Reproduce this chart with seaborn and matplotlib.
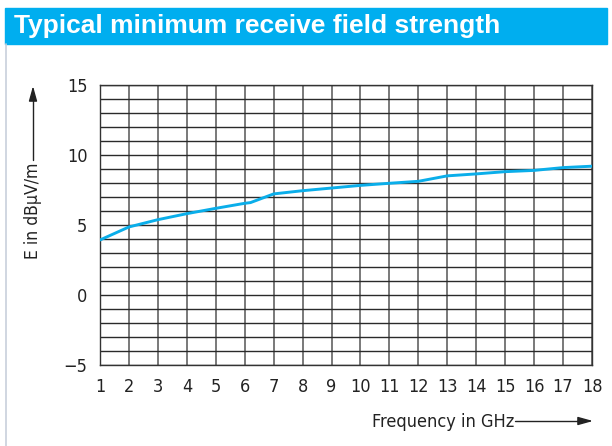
import matplotlib
matplotlib.use("Agg")
import matplotlib.pyplot as plt
import seaborn as sns
import pandas as pd
from matplotlib.ticker import MultipleLocator
from matplotlib.patches import Rectangle

# values
freq_ghz = [1, 2, 3, 4, 5, 6, 6.2, 7, 8, 9, 10, 11, 12, 13, 14, 15, 16, 17, 18]
field_dbuv = [3.93, 4.86, 5.38, 5.81, 6.19, 6.55, 6.6, 7.22, 7.45, 7.64, 7.83,
              7.98, 8.12, 8.51, 8.65, 8.81, 8.9, 9.1, 9.2]
x_ticks = list(range(1, 19))
y_ticks = [-5, 0, 5, 10, 15]

title = "Typical minimum receive field strength"
ylabel = "E in dBµV/m"
xlabel = "Frequency in GHz"

data = pd.DataFrame({"freq": freq_ghz, "field": field_dbuv})

sns.set_style("white")
plt.rcParams["font.family"] = ["Liberation Sans Narrow", "DejaVu Sans"]
plt.rcParams["font.stretch"] = "condensed"

W, H = 612, 446
fig = plt.figure(figsize=(W / 100, H / 100), dpi=100)

# title bar + left frame line
fig.patches.append(Rectangle((5 / W, 1 - 44 / H), 602 / W, 36 / H,
                             transform=fig.transFigure, color="#00AEEF", zorder=0))
fig.add_artist(plt.Line2D([5.5 / W, 5.5 / W], [0, 1 - 44 / H], transform=fig.transFigure,
                          color="#c8d0dc", lw=1.2))
fig.text(14 / W, 1 - 26 / H, title, color="white", fontsize=19, fontweight="bold",
         family=["Liberation Sans", "DejaVu Sans"], va="center", ha="left")

ax = fig.add_axes([100 / W, 1 - 365 / H, 492 / W, 280 / H])
sns.lineplot(data=data, x="freq", y="field", ax=ax, color="#0AAEEA", linewidth=2.1, zorder=5)

ax.set_xlim(1, 18)
ax.set_ylim(-5, 15)
ax.set_xticks(x_ticks)
ax.set_yticks(y_ticks)
ax.set_xticklabels([str(t) for t in x_ticks])
ax.set_yticklabels(["\u22125" if t < 0 else str(t) for t in y_ticks])
ax.yaxis.set_minor_locator(MultipleLocator(1))
# vertical lines a bit lighter than the horizontal ones, as in the print
ax.grid(True, axis="x", which="major", color="#555555", linewidth=1.1)
ax.grid(True, axis="y", which="both", color="#2a2a2a", linewidth=1.0)
ax.tick_params(axis="both", which="major", direction="out", length=6, width=1,
               color="#222222", labelsize=13, pad=3, labelcolor="#222222")
ax.tick_params(axis="y", which="minor", length=0)
for s in ax.spines.values():
    s.set_color("#333333")
    s.set_linewidth(1.0)
ax.set_xlabel("")
ax.set_ylabel("")

# axis labels with arrows
fig.text(33 / W, 1 - 211 / H, ylabel, rotation=90, ha="center", va="center",
         fontsize=12.6, color="#222222")
fig.add_artist(plt.Line2D([33 / W, 33 / W], [1 - 160 / H, 1 - 96 / H],
                          transform=fig.transFigure, color="#222222", lw=1))
ax.annotate("", xy=(33 / W, 1 - 86 / H), xytext=(33 / W, 1 - 100 / H),
            xycoords="figure fraction", textcoords="figure fraction",
            arrowprops=dict(arrowstyle="-|>,head_length=0.9,head_width=0.25",
                            color="#222222", lw=1, shrinkA=0, shrinkB=0))

fig.text(514 / W, 1 - 422 / H, xlabel, ha="right", va="center", fontsize=13, color="#222222")
fig.add_artist(plt.Line2D([515 / W, 582 / W], [1 - 421 / H, 1 - 421 / H],
                          transform=fig.transFigure, color="#222222", lw=1))
ax.annotate("", xy=(593 / W, 1 - 421 / H), xytext=(578 / W, 1 - 421 / H),
            xycoords="figure fraction", textcoords="figure fraction",
            arrowprops=dict(arrowstyle="-|>,head_length=0.9,head_width=0.25",
                            color="#222222", lw=1, shrinkA=0, shrinkB=0))

fig.savefig("out.png", dpi=100)
